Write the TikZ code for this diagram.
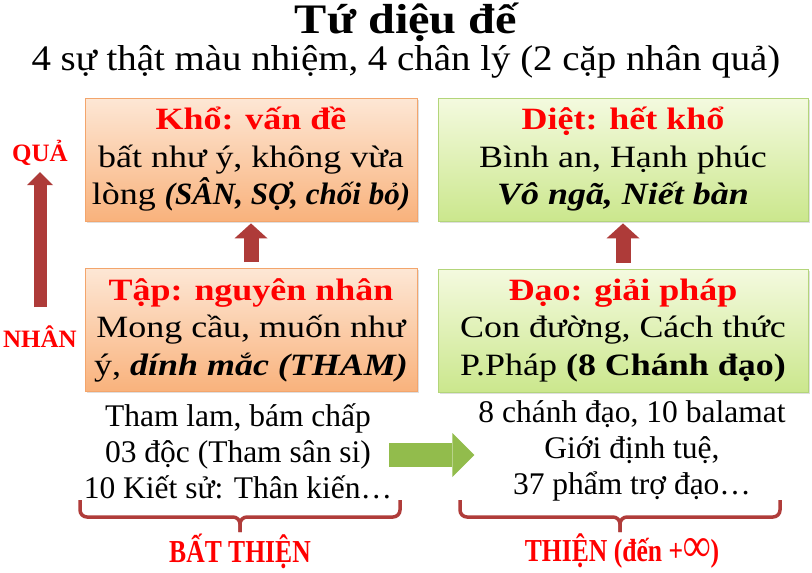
\documentclass[tikz,border=0pt]{standalone}
\usepackage{fontspec}
\setmainfont{Liberation Serif}
\newfontfamily\boxfont[FakeStretch=1.16]{Liberation Serif}
\newfontfamily\boxfontn[FakeStretch=1.0]{Liberation Serif}
\newfontfamily\narrowfont[FakeStretch=0.8]{Liberation Serif}
\newfontfamily\widetitle[FakeStretch=1.15]{Liberation Serif}
\newfontfamily\widesub[FakeStretch=1.08]{Liberation Serif}
\usetikzlibrary{arrows.meta,shadows}
\definecolor{orT}{HTML}{FDE7D5}
\definecolor{orB}{HTML}{F9B27C}
\definecolor{orD}{HTML}{F3A56C}
\definecolor{grT}{HTML}{F4FADF}
\definecolor{grB}{HTML}{CBE78D}
\definecolor{grD}{HTML}{B3D57A}
\definecolor{arRed}{HTML}{AE3B39}
\definecolor{arGreen}{HTML}{92BC4C}
\definecolor{braceRed}{HTML}{B03C3A}
\definecolor{lblRed}{HTML}{FF0000}
\begin{document}
\begin{tikzpicture}[x=1pt,y=-1pt,
 truth/.style={minimum width=332pt, minimum height=123pt, inner sep=0pt, align=center,
   font=\boxfont\fontsize{31}{37.5}\selectfont, text=black,
   drop shadow={opacity=0.25,shadow xshift=1.5pt,shadow yshift=-1.5pt}},
 orangebox/.style={truth, draw=orD, line width=0.8pt, top color=orT, bottom color=orB},
 greenbox/.style={truth, minimum width=370pt, draw=grD, line width=0.8pt, top color=grT, bottom color=grB},
 sidelbl/.style={text=lblRed, font=\bfseries\fontsize{25}{28}\selectfont, inner sep=0pt},
 listtext/.style={align=center, font=\fontsize{31.5}{36}\selectfont, inner sep=0pt},
 bigarrow/.style={draw=arRed, line width=13pt, -{Triangle[width=26pt,length=13pt,line width=0pt]}},
 smallarrow/.style={draw=arRed, line width=15pt, -{Triangle[width=33pt,length=15pt,line width=0pt]}},
 greenarrow/.style={draw=arGreen, line width=24pt, -{Triangle[width=44pt,length=22pt,line width=0pt]}},
 bracestyle/.style={draw=braceRed, line width=3.5pt, rounded corners=7pt},
 bottomlbl/.style={text=lblRed, font=\narrowfont\bfseries\fontsize{32}{34}\selectfont, inner sep=0pt},
 titletext/.style={font=\widetitle\bfseries\fontsize{42}{46}\selectfont, inner sep=0pt},
 subtext/.style={font=\widesub\fontsize{36}{40}\selectfont, inner sep=0pt}
]
\useasboundingbox[fill=white] (0,0) rectangle (812,573);

\node[titletext] (title) at (406,22) {Tứ diệu đế};
\node[subtext] (sub) at (406,62) {4 sự thật màu nhiệm, 4 chân lý (2 cặp nhân quả)};

\node[orangebox] (kho) at (251,159.5) {{\color{lblRed}\bfseries Khổ: vấn đề}\\bất như ý, không vừa\\lòng {\boxfontn\bfseries\itshape (SÂN, SỢ, chối bỏ)}};
\node[greenbox] (diet) at (623,159.5) {{\color{lblRed}\bfseries Diệt: hết khổ}\\Bình an, Hạnh phúc\\{\bfseries\itshape Vô ngã, Niết bàn}};
\node[orangebox] (tap) at (251,330) {{\color{lblRed}\bfseries Tập: nguyên nhân}\\Mong cầu, muốn như\\ý, {\bfseries\itshape dính mắc (THAM)}};
\node[greenbox] (dao) at (623,330.5) {{\color{lblRed}\bfseries Đạo: giải pháp}\\Con đường, Cách thức\\P.Pháp {\bfseries (8 Chánh đạo)}};

\node[sidelbl] (qua) at (40,153) {QUẢ};
\node[sidelbl] (nhan) at (40,337) {NHÂN};
\draw[bigarrow] ([yshift=30pt]nhan.center) -- ([yshift=-19pt]qua.center);

\draw[smallarrow] ([yshift=6pt]tap.north) -- ([yshift=-2pt]kho.south);
\draw[smallarrow] ([yshift=6pt]dao.north) -- ([yshift=-2pt]diet.south);

\node[listtext] (listL) at (238,451) {Tham lam, bám chấp\\03 độc (Tham sân si)\\10 Kiết sử: Thân kiến…};
\node[listtext] (listR) at (632,451) {8 chánh đạo, 10 balamat\\Giới định tuệ,\\37 phẩm trợ đạo…};
\draw[greenarrow, shorten <=-3pt, shorten >=4pt] ([yshift=-4pt]listL.east) -- ([yshift=-4pt]listR.west);

\coordinate (bL) at (240,532);
\coordinate (bR) at (620,532);
\draw[bracestyle] (80,500) |- (240,517) -- (bL);
\draw[bracestyle] (400,500) |- (240,517) -- (bL);
\draw[bracestyle] (460,500) |- (620,517) -- (bR);
\draw[bracestyle] (780,500) |- (620,517) -- (bR);

\node[bottomlbl] (bat) at (240,551) {BẤT THIỆN};
\node[bottomlbl] (thien) at (622,551) {THIỆN (đến +\scalebox{1.5}{∞})};
\end{tikzpicture}
\end{document}
